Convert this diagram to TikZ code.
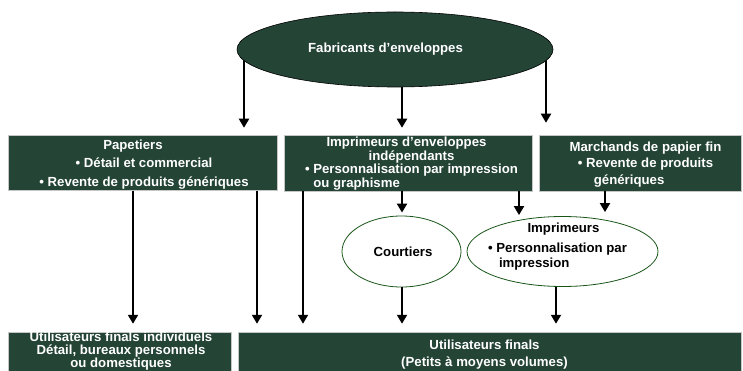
\documentclass[tikz,border=0pt]{standalone}
\usepackage{fontspec}
\setmainfont{Liberation Sans}
\usetikzlibrary{shapes.geometric,arrows.meta,backgrounds}
\definecolor{dkgreen}{RGB}{36,68,54}
\definecolor{olgreen}{RGB}{25,85,25}
\begin{document}
\begin{tikzpicture}[x=1pt,y=-1pt,
  box/.style={rectangle, fill=dkgreen, draw=gray!45, line width=0.5pt, inner sep=0pt},
  wtxt/.style={text=white, inner sep=0pt, align=center},
  btxt/.style={text=black, inner sep=0pt, align=center},
  oval/.style={ellipse, draw=olgreen, line width=0.8pt, fill=white, inner sep=0pt},
  topoval/.style={ellipse, draw=black, line width=0.6pt, fill=dkgreen, inner sep=0pt},
  arr/.style={line width=2pt, -{Triangle[width=10pt,length=9pt]}}]
\useasboundingbox (0,0) rectangle (743,371);

% x positions of connectors
\foreach \xx in {133,244,257,303,402,519,546,556,605}
  \coordinate (c\xx) at (\xx,0);

% top ellipse
\node[topoval, minimum width=316pt, minimum height=75pt] (fab) at (395,49.5) {};
\node[wtxt, font=\bfseries\fontsize{13.2}{16}\selectfont] (fabt) at (385.5,49.5) {Fabricants d’enveloppes};

% second row boxes
\node[box, minimum width=269pt, minimum height=55.5pt] (pap) at (142.5,162.75) {};
\node[wtxt, font=\bfseries\fontsize{13.2}{18.5}\selectfont] (papt) at (144,164.5)
  {Papetiers\hspace*{22pt}\\• Détail et commercial\\• Revente de produits génériques};

\node[box, minimum width=248pt, minimum height=56pt] (imp) at (408,163) {};
\node[wtxt, font=\bfseries\fontsize{13.2}{13.7}\selectfont] (impt) at (411.5,163.5)
  {Imprimeurs d’enveloppes\hspace*{10pt}\\indépendants\hspace*{10pt}\\• Personnalisation par impression\\
   \rlap{\hspace{8.3pt}ou graphisme}\phantom{• Personnalisation par impression}};

\node[box, minimum width=202pt, minimum height=56pt] (mar) at (640,163) {};
\node[wtxt, font=\bfseries\fontsize{13.2}{16.5}\selectfont] (mart) at (645.5,164.5)
  {Marchands de papier fin\\• Revente de produits\\
   \rlap{\hspace{16pt}génériques}\phantom{• Revente de produits}};

% third row ellipses
\node[oval, minimum width=119pt, minimum height=71pt] (cour) at (401.5,251.5) {};
\node[btxt, font=\bfseries\fontsize{13.2}{16}\selectfont] (court) at (403,252) {Courtiers};

\node[oval, minimum width=191pt, minimum height=70pt] (impe) at (562.5,251.5) {};
\node[btxt, font=\bfseries\fontsize{13.2}{15}\selectfont] (impet) at (557.5,246.5)
  {\hspace*{12pt}Imprimeurs\\[5pt]• Personnalisation par\\
   \rlap{\hspace{11pt}impression}\phantom{• Personnalisation par}};

% bottom boxes
\node[box, minimum width=223pt, minimum height=44pt] (ufi) at (119.5,354) {};
\node[wtxt, font=\bfseries\fontsize{13.2}{13}\selectfont] (ufit) at (121,351.5)
  {Utilisateurs finals individuels\\Détail, bureaux personnels\\ou domestiques};

\node[box, minimum width=503pt, minimum height=44pt] (ufp) at (489.5,354) {};
\node[wtxt, font=\bfseries\fontsize{13.2}{17}\selectfont] (ufpt) at (484.5,354.5)
  {Utilisateurs finals\\(Petits à moyens volumes)};

% connectors from the top ellipse
\begin{scope}[on background layer]
  \draw[arr, shorten >=7pt] (fab.center -| c244) -- (pap.north -| c244);
  \draw[arr, shorten >=7pt] (fab.center -| c402) -- (imp.north -| c402);
  \draw[arr, shorten >=12pt] (fab.center -| c546) -- (mar.north -| c546);
\end{scope}

% second row down
\draw[arr, shorten >=8pt] (pap.south -| c133) -- (ufi.north -| c133);
\draw[arr, shorten >=8pt] (pap.south -| c257) -- (ufp.north -| c257);
\draw[arr, shorten >=8pt] (imp.south -| c303) -- (ufp.north -| c303);
\draw[arr, shorten >=3pt] (imp.south -| c402) -- (cour.north -| c402);
\draw[arr, shorten >=1pt] (imp.south -| c519) -- (impe.north -| c519);
\draw[arr, shorten >=4pt] (mar.south -| c605) -- (impe.north -| c605);

% third row down
\draw[arr, shorten >=8pt] (cour.south -| c402) -- (ufp.north -| c402);
\draw[arr, shorten >=8pt] (impe.south -| c556) -- (ufp.north -| c556);
\end{tikzpicture}
\end{document}
